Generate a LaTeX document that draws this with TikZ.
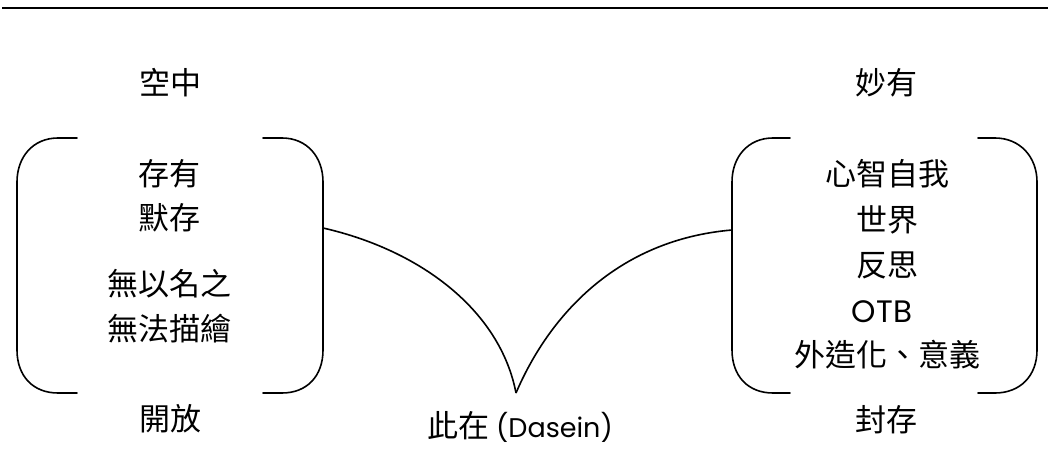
\documentclass[tikz,border=0pt]{standalone}
\usepackage{fontspec}
\setmainfont{Noto Sans CJK TC}
\newfontfamily\latinfont{Poppins}

\begin{document}
\begin{tikzpicture}[x=1pt,y=-1pt,
  lbl/.style={font=\fontsize{31}{31}\selectfont, inner sep=0pt, anchor=center},
  bracket/.style={line width=1.6pt, line join=round, line cap=round},
  link/.style={line width=1.6pt}]
\useasboundingbox (0,0) rectangle (1048,470);

% rule across the top
\draw[line width=2.4pt] (2,8) -- (1048,8);

% left pair of brackets
\draw[bracket] (77,138) -- (58,138) .. controls (33,138) and (17,157) .. (17,182)
  -- (17,350) .. controls (17,376) and (33,393) .. (58,393) -- (77,393);
\draw[bracket] (263,138) -- (282,138) .. controls (307,138) and (323,157) .. (323,182)
  -- (323,350) .. controls (323,376) and (307,393) .. (282,393) -- (263,393);

% right pair of brackets
\draw[bracket] (790,138) -- (773,138) .. controls (748,138) and (732,157) .. (732,182)
  -- (732,350) .. controls (732,376) and (748,393) .. (773,393) -- (790,393);
\draw[bracket] (978,138) -- (995,138) .. controls (1020,138) and (1037,157) .. (1037,182)
  -- (1037,350) .. controls (1037,376) and (1020,393) .. (995,393) -- (978,393);

\coordinate (left-edge) at (323,228);
\coordinate (right-edge) at (732,230);
\coordinate (cusp) at (516,393);

% the two arcs meeting in a cusp
\draw[link] (left-edge) .. controls (420,250) and (500,310) .. (cusp);
\draw[link] (cusp) .. controls (548,318) and (615,240) .. (right-edge);

% headings
\node[lbl] (kongzhong) at (170,83) {空中};
\node[lbl] (miaoyou) at (886,83) {妙有};
\node[lbl] (kaifang) at (170,419) {開放};
\node[lbl] (fengcun) at (886,420) {封存};
\node[lbl] (dasein) at (520,427) {此在 {\latinfont\fontsize{27}{27}\selectfont (Dasein)}};

% left column
\node[lbl] (cunyou) at (169,174) {存有};
\node[lbl] (mocun) at (169,218) {默存};
\node[lbl] (wuming) at (169,284) {無以名之};
\node[lbl] (wufa) at (169,329) {無法描繪};

% right column
\node[lbl] (xinzhi) at (887,174) {心智自我};
\node[lbl] (shijie) at (887,220) {世界};
\node[lbl] (fansi) at (887,265) {反思};
\node[lbl] (otb) at (882,312) {\latinfont OTB};
\node[lbl] (waizao) at (887,355) {外造化、意義};
\end{tikzpicture}
\end{document}
